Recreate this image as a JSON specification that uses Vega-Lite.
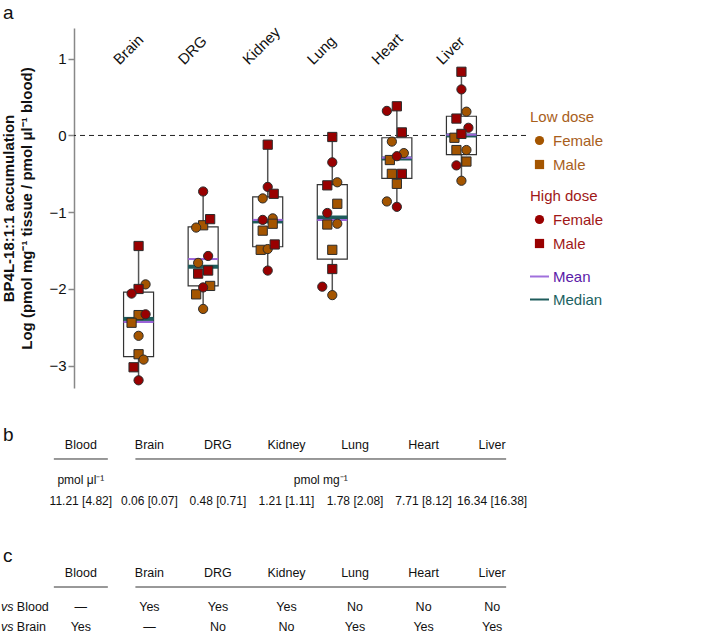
{
  "$schema": "https://vega.github.io/schema/vega-lite/v6.json",
  "padding": {"left": 1, "top": 3, "right": 0, "bottom": 0},
  "config": {
    "font": "Liberation Sans",
    "view": {"stroke": null},
    "axisY": {"grid": false, "domainColor": "#888", "domainWidth": 1.5, "tickColor": "#888", "tickWidth": 1.5, "tickSize": 6, "labelFontSize": 15, "labelColor": "#111", "labelPadding": 2, "titleFontSize": 15, "titleFontWeight": "bold", "titleColor": "#111", "titleLineHeight": 18, "titlePadding": 14}
  },
  "datasets": {
    "points": [
      {"organ": "Brain", "dose": "Low", "sex": "Female", "value": -1.94, "jit": 7},
      {"organ": "Brain", "dose": "Low", "sex": "Male", "value": -2.34, "jit": 0},
      {"organ": "Brain", "dose": "Low", "sex": "Male", "value": -2.44, "jit": -7},
      {"organ": "Brain", "dose": "Low", "sex": "Female", "value": -2.61, "jit": 0},
      {"organ": "Brain", "dose": "Low", "sex": "Male", "value": -2.85, "jit": 0},
      {"organ": "Brain", "dose": "Low", "sex": "Female", "value": -2.92, "jit": 5},
      {"organ": "Brain", "dose": "High", "sex": "Male", "value": -1.44, "jit": 0},
      {"organ": "Brain", "dose": "High", "sex": "Male", "value": -2.0, "jit": 0},
      {"organ": "Brain", "dose": "High", "sex": "Female", "value": -2.06, "jit": -7},
      {"organ": "Brain", "dose": "High", "sex": "Female", "value": -2.33, "jit": 7},
      {"organ": "Brain", "dose": "High", "sex": "Male", "value": -3.02, "jit": -5},
      {"organ": "Brain", "dose": "High", "sex": "Female", "value": -3.19, "jit": 0},
      {"organ": "DRG", "dose": "Low", "sex": "Male", "value": -1.17, "jit": 0},
      {"organ": "DRG", "dose": "Low", "sex": "Female", "value": -1.2, "jit": -7},
      {"organ": "DRG", "dose": "Low", "sex": "Female", "value": -1.66, "jit": -5},
      {"organ": "DRG", "dose": "Low", "sex": "Male", "value": -1.96, "jit": 7},
      {"organ": "DRG", "dose": "Low", "sex": "Male", "value": -2.07, "jit": -7},
      {"organ": "DRG", "dose": "Low", "sex": "Female", "value": -2.26, "jit": 0},
      {"organ": "DRG", "dose": "High", "sex": "Female", "value": -0.73, "jit": 0},
      {"organ": "DRG", "dose": "High", "sex": "Male", "value": -1.09, "jit": 7},
      {"organ": "DRG", "dose": "High", "sex": "Female", "value": -1.57, "jit": 5},
      {"organ": "DRG", "dose": "High", "sex": "Male", "value": -1.76, "jit": 5},
      {"organ": "DRG", "dose": "High", "sex": "Male", "value": -1.8, "jit": -5},
      {"organ": "DRG", "dose": "High", "sex": "Female", "value": -1.98, "jit": 0},
      {"organ": "Kidney", "dose": "Low", "sex": "Female", "value": -0.82, "jit": -5},
      {"organ": "Kidney", "dose": "Low", "sex": "Female", "value": -1.08, "jit": 5},
      {"organ": "Kidney", "dose": "Low", "sex": "Male", "value": -1.15, "jit": 5},
      {"organ": "Kidney", "dose": "Low", "sex": "Male", "value": -1.24, "jit": -5},
      {"organ": "Kidney", "dose": "Low", "sex": "Male", "value": -1.49, "jit": -7},
      {"organ": "Kidney", "dose": "Low", "sex": "Female", "value": -1.48, "jit": 0},
      {"organ": "Kidney", "dose": "High", "sex": "Male", "value": -0.12, "jit": 0},
      {"organ": "Kidney", "dose": "High", "sex": "Female", "value": -0.67, "jit": 0},
      {"organ": "Kidney", "dose": "High", "sex": "Male", "value": -0.76, "jit": 6},
      {"organ": "Kidney", "dose": "High", "sex": "Female", "value": -1.1, "jit": -5},
      {"organ": "Kidney", "dose": "High", "sex": "Male", "value": -1.42, "jit": 7},
      {"organ": "Kidney", "dose": "High", "sex": "Female", "value": -1.76, "jit": 0},
      {"organ": "Lung", "dose": "Low", "sex": "Female", "value": -0.61, "jit": 5},
      {"organ": "Lung", "dose": "Low", "sex": "Male", "value": -0.89, "jit": 5},
      {"organ": "Lung", "dose": "Low", "sex": "Male", "value": -1.16, "jit": -5},
      {"organ": "Lung", "dose": "Low", "sex": "Female", "value": -1.15, "jit": 5},
      {"organ": "Lung", "dose": "Low", "sex": "Male", "value": -1.49, "jit": 0},
      {"organ": "Lung", "dose": "Low", "sex": "Female", "value": -2.08, "jit": 0},
      {"organ": "Lung", "dose": "High", "sex": "Male", "value": -0.02, "jit": 0},
      {"organ": "Lung", "dose": "High", "sex": "Female", "value": -0.35, "jit": 0},
      {"organ": "Lung", "dose": "High", "sex": "Male", "value": -0.65, "jit": -5},
      {"organ": "Lung", "dose": "High", "sex": "Female", "value": -1.01, "jit": -5},
      {"organ": "Lung", "dose": "High", "sex": "Male", "value": -1.74, "jit": 0},
      {"organ": "Lung", "dose": "High", "sex": "Female", "value": -1.97, "jit": -10},
      {"organ": "Heart", "dose": "Low", "sex": "Female", "value": -0.08, "jit": -5},
      {"organ": "Heart", "dose": "Low", "sex": "Female", "value": -0.23, "jit": 7},
      {"organ": "Heart", "dose": "Low", "sex": "Male", "value": -0.32, "jit": -7},
      {"organ": "Heart", "dose": "Low", "sex": "Male", "value": -0.5, "jit": -5},
      {"organ": "Heart", "dose": "Low", "sex": "Male", "value": -0.63, "jit": 0},
      {"organ": "Heart", "dose": "Low", "sex": "Female", "value": -0.86, "jit": -10},
      {"organ": "Heart", "dose": "High", "sex": "Male", "value": 0.38, "jit": 0},
      {"organ": "Heart", "dose": "High", "sex": "Female", "value": 0.32, "jit": -10},
      {"organ": "Heart", "dose": "High", "sex": "Male", "value": 0.04, "jit": 5},
      {"organ": "Heart", "dose": "High", "sex": "Female", "value": -0.27, "jit": 0},
      {"organ": "Heart", "dose": "High", "sex": "Male", "value": -0.5, "jit": 5},
      {"organ": "Heart", "dose": "High", "sex": "Female", "value": -0.93, "jit": 0},
      {"organ": "Liver", "dose": "Low", "sex": "Female", "value": 0.31, "jit": 5},
      {"organ": "Liver", "dose": "Low", "sex": "Male", "value": -0.03, "jit": -7},
      {"organ": "Liver", "dose": "Low", "sex": "Male", "value": -0.19, "jit": -5},
      {"organ": "Liver", "dose": "Low", "sex": "Female", "value": -0.19, "jit": 5},
      {"organ": "Liver", "dose": "Low", "sex": "Male", "value": -0.34, "jit": 5},
      {"organ": "Liver", "dose": "Low", "sex": "Female", "value": -0.59, "jit": 0},
      {"organ": "Liver", "dose": "High", "sex": "Male", "value": 0.83, "jit": 0},
      {"organ": "Liver", "dose": "High", "sex": "Female", "value": 0.6, "jit": 0},
      {"organ": "Liver", "dose": "High", "sex": "Male", "value": 0.22, "jit": -5},
      {"organ": "Liver", "dose": "High", "sex": "Female", "value": 0.1, "jit": 7},
      {"organ": "Liver", "dose": "High", "sex": "Male", "value": 0.02, "jit": 0},
      {"organ": "Liver", "dose": "High", "sex": "Female", "value": -0.39, "jit": -5}
    ],
    "boxes": [
      {"organ": "Brain", "lo": -3.19, "q1": -2.88, "q3": -2.04, "hi": -1.44},
      {"organ": "DRG", "lo": -2.26, "q1": -1.96, "q3": -1.19, "hi": -0.73},
      {"organ": "Kidney", "lo": -1.76, "q1": -1.45, "q3": -0.8, "hi": -0.12},
      {"organ": "Lung", "lo": -2.08, "q1": -1.61, "q3": -0.64, "hi": -0.02},
      {"organ": "Heart", "lo": -0.93, "q1": -0.56, "q3": -0.03, "hi": 0.38},
      {"organ": "Liver", "lo": -0.59, "q1": -0.25, "q3": 0.25, "hi": 0.83}
    ],
    "centers": [
      {"organ": "Brain", "stat": "Median", "value": -2.39},
      {"organ": "DRG", "stat": "Median", "value": -1.71},
      {"organ": "Kidney", "stat": "Median", "value": -1.12},
      {"organ": "Lung", "stat": "Median", "value": -1.07},
      {"organ": "Heart", "stat": "Median", "value": -0.3},
      {"organ": "Liver", "stat": "Median", "value": 0.0},
      {"organ": "Brain", "stat": "Mean", "value": -2.43},
      {"organ": "DRG", "stat": "Mean", "value": -1.61},
      {"organ": "Kidney", "stat": "Mean", "value": -1.1},
      {"organ": "Lung", "stat": "Mean", "value": -1.1},
      {"organ": "Heart", "stat": "Mean", "value": -0.29},
      {"organ": "Liver", "stat": "Mean", "value": 0.01}
    ],
    "tableB": [
      {"kind": "head", "row": "line", "col": "Blood", "label": "Blood"},
      {"kind": "head", "row": "line", "col": "Brain", "label": "Brain"},
      {"kind": "head", "row": "line", "col": "DRG", "label": "DRG"},
      {"kind": "head", "row": "line", "col": "Kidney", "label": "Kidney"},
      {"kind": "head", "row": "line", "col": "Lung", "label": "Lung"},
      {"kind": "head", "row": "line", "col": "Heart", "label": "Heart"},
      {"kind": "head", "row": "line", "col": "Liver", "label": "Liver"},
      {"kind": "unit", "row": "unit", "col": "Blood", "label": "pmol μl⁻¹"},
      {"kind": "unitmid", "row": "unit", "col": "Kidney", "label": "pmol mg⁻¹"},
      {"kind": "val", "row": "val", "col": "Blood", "label": "11.21 [4.82]"},
      {"kind": "val", "row": "val", "col": "Brain", "label": "0.06 [0.07]"},
      {"kind": "val", "row": "val", "col": "DRG", "label": "0.48 [0.71]"},
      {"kind": "val", "row": "val", "col": "Kidney", "label": "1.21 [1.11]"},
      {"kind": "val", "row": "val", "col": "Lung", "label": "1.78 [2.08]"},
      {"kind": "val", "row": "val", "col": "Heart", "label": "7.71 [8.12]"},
      {"kind": "val", "row": "val", "col": "Liver", "label": "16.34 [16.38]"}
    ],
    "tableC": [
      {"kind": "head", "row": "line", "col": "Blood", "label": "Blood"},
      {"kind": "head", "row": "line", "col": "Brain", "label": "Brain"},
      {"kind": "head", "row": "line", "col": "DRG", "label": "DRG"},
      {"kind": "head", "row": "line", "col": "Kidney", "label": "Kidney"},
      {"kind": "head", "row": "line", "col": "Lung", "label": "Lung"},
      {"kind": "head", "row": "line", "col": "Heart", "label": "Heart"},
      {"kind": "head", "row": "line", "col": "Liver", "label": "Liver"},
      {"kind": "rl", "row": "vsBlood", "col": "Blood", "label": "Blood"},
      {"kind": "rl", "row": "vsBrain", "col": "Blood", "label": "Brain"},
      {"kind": "val", "row": "vsBlood", "col": "Blood", "label": "—"},
      {"kind": "val", "row": "vsBlood", "col": "Brain", "label": "Yes"},
      {"kind": "val", "row": "vsBlood", "col": "DRG", "label": "Yes"},
      {"kind": "val", "row": "vsBlood", "col": "Kidney", "label": "Yes"},
      {"kind": "val", "row": "vsBlood", "col": "Lung", "label": "No"},
      {"kind": "val", "row": "vsBlood", "col": "Heart", "label": "No"},
      {"kind": "val", "row": "vsBlood", "col": "Liver", "label": "No"},
      {"kind": "val", "row": "vsBrain", "col": "Blood", "label": "Yes"},
      {"kind": "val", "row": "vsBrain", "col": "Brain", "label": "—"},
      {"kind": "val", "row": "vsBrain", "col": "DRG", "label": "No"},
      {"kind": "val", "row": "vsBrain", "col": "Kidney", "label": "No"},
      {"kind": "val", "row": "vsBrain", "col": "Lung", "label": "Yes"},
      {"kind": "val", "row": "vsBrain", "col": "Heart", "label": "Yes"},
      {"kind": "val", "row": "vsBrain", "col": "Liver", "label": "Yes"}
    ]
  },
  "bounds": "flush",
  "spacing": 64,
  "vconcat": [
    {
      "width": 452,
      "height": 360,
      "title": {"text": "a", "anchor": "start", "frame": "group", "dx": -71, "dy": 23, "offset": 10, "fontSize": 19, "fontWeight": "normal", "baseline": "alphabetic", "color": "#111"},
      "resolve": {"scale": {"shape": "independent"}, "legend": {"shape": "independent"}},
      "layer": [
        {
          "data": {"values": [{"ref": 0}]},
          "mark": {"type": "rule", "strokeDash": [5, 4], "color": "#222", "strokeWidth": 1},
          "encoding": {"y": {"field": "ref", "type": "quantitative", "scale": {"domain": [-3.29, 1.4], "nice": false, "zero": false},
            "axis": {"values": [-3, -2, -1, 0, 1], "title": ["BP4L-18:1:1 accumulation", "Log (pmol mg⁻¹ tissue / pmol μl⁻¹ blood)"]}}}
        },
        {
          "data": {"name": "boxes"},
          "mark": {"type": "rule", "color": "#555", "strokeWidth": 1.5},
          "encoding": {
            "x": {"field": "organ", "type": "nominal", "scale": {"type": "point", "padding": 1, "domain": ["Brain", "DRG", "Kidney", "Lung", "Heart", "Liver"]}, "axis": null},
            "y": {"field": "lo", "type": "quantitative", "scale": {"domain": [-3.29, 1.4], "nice": false, "zero": false},
              "axis": {"values": [-3, -2, -1, 0, 1], "title": ["BP4L-18:1:1 accumulation", "Log (pmol mg⁻¹ tissue / pmol μl⁻¹ blood)"]}},
            "y2": {"field": "hi"}
          }
        },
        {
          "data": {"name": "boxes"},
          "mark": {"type": "bar", "width": 30, "fill": "white", "stroke": "#333", "strokeWidth": 1.2},
          "encoding": {
            "x": {"field": "organ", "type": "nominal", "scale": {"type": "point", "padding": 1, "domain": ["Brain", "DRG", "Kidney", "Lung", "Heart", "Liver"]}, "axis": null},
            "y": {"field": "q1", "type": "quantitative", "scale": {"domain": [-3.29, 1.4], "nice": false, "zero": false},
              "axis": {"values": [-3, -2, -1, 0, 1], "title": ["BP4L-18:1:1 accumulation", "Log (pmol mg⁻¹ tissue / pmol μl⁻¹ blood)"]}},
            "y2": {"field": "q3"}
          }
        },
        {
          "data": {"name": "centers"},
          "transform": [{"filter": "datum.stat === 'Median'"}],
          "mark": {"type": "tick", "size": 30, "thickness": 4, "opacity": 1, "color": "#1f5c5c"},
          "encoding": {
            "x": {"field": "organ", "type": "nominal", "scale": {"type": "point", "padding": 1, "domain": ["Brain", "DRG", "Kidney", "Lung", "Heart", "Liver"]}, "axis": null},
            "y": {"field": "value", "type": "quantitative", "scale": {"domain": [-3.29, 1.4], "nice": false, "zero": false},
              "axis": {"values": [-3, -2, -1, 0, 1], "title": ["BP4L-18:1:1 accumulation", "Log (pmol mg⁻¹ tissue / pmol μl⁻¹ blood)"]}}
          }
        },
        {
          "data": {"name": "centers"},
          "mark": {"type": "tick", "size": 30, "thickness": 2, "opacity": 1},
          "encoding": {
            "x": {"field": "organ", "type": "nominal", "scale": {"type": "point", "padding": 1, "domain": ["Brain", "DRG", "Kidney", "Lung", "Heart", "Liver"]}, "axis": null},
            "y": {"field": "value", "type": "quantitative", "scale": {"domain": [-3.29, 1.4], "nice": false, "zero": false},
              "axis": {"values": [-3, -2, -1, 0, 1], "title": ["BP4L-18:1:1 accumulation", "Log (pmol mg⁻¹ tissue / pmol μl⁻¹ blood)"]}},
            "color": {"field": "stat", "type": "nominal", "scale": {"domain": ["Mean", "Median"], "range": ["#9b63d8", "#1f5c5c"]},
              "legend": {"title": null, "orient": "none", "legendX": 455, "legendY": 238, "symbolType": "stroke", "symbolSize": 361, "symbolStrokeWidth": 2, "labelFontSize": 15, "labelOffset": 3, "rowPadding": 4, "padding": 0,
                "labelColor": {"expr": "datum.value === 'Mean' ? '#5a20a8' : '#1a6262'"},
                "symbolStrokeColor": {"expr": "datum.value === 'Mean' ? '#a070dc' : '#1f5c5c'"},
                "encode": {
                  "labels": {"fill": {"condition": {"test": "datum.value === 'Mean'", "value": "#5a20a8"}, "value": "#1a6262"}},
                  "symbols": {"stroke": {"condition": {"test": "datum.value === 'Mean'", "value": "#a070dc"}, "value": "#1f5c5c"}, "strokeWidth": {"condition": {"test": "datum.value === 'Mean'", "value": 1.5}, "value": 2.5}}
                }}},
            "order": {"field": "stat", "sort": "descending"}
          }
        },
        {
          "data": {"name": "points"},
          "transform": [{"filter": "datum.dose === 'Low'"}],
          "mark": {"type": "point", "filled": true, "fill": "#a45500", "stroke": "#2b2b2b", "strokeWidth": 1, "size": 85, "opacity": 1},
          "encoding": {
            "x": {"field": "organ", "type": "nominal", "scale": {"type": "point", "padding": 1, "domain": ["Brain", "DRG", "Kidney", "Lung", "Heart", "Liver"]}, "axis": null},
            "xOffset": {"field": "jit", "type": "quantitative", "scale": {"domain": [-10, 10], "range": [-10, 10]}},
            "y": {"field": "value", "type": "quantitative", "scale": {"domain": [-3.29, 1.4], "nice": false, "zero": false},
              "axis": {"values": [-3, -2, -1, 0, 1], "title": ["BP4L-18:1:1 accumulation", "Log (pmol mg⁻¹ tissue / pmol μl⁻¹ blood)"]}},
            "shape": {"field": "sex", "type": "nominal", "scale": {"domain": ["Female", "Male"], "range": ["circle", "square"]},
              "legend": {"title": "Low dose", "orient": "none", "legendX": 456, "legendY": 82, "titleColor": "#a8601c", "titleFontSize": 15, "titleFontWeight": "normal", "titlePadding": 8, "labelColor": "#a8601c", "labelFontSize": 15, "symbolFillColor": "#a45500", "symbolStrokeColor": "#2b2b2b", "symbolStrokeWidth": 1, "symbolSize": 85, "symbolOffset": 2, "labelOffset": 6, "rowPadding": 8, "padding": 0}}
          }
        },
        {
          "data": {"name": "points"},
          "transform": [{"filter": "datum.dose === 'High'"}],
          "mark": {"type": "point", "filled": true, "fill": "#990000", "stroke": "#2b2b2b", "strokeWidth": 1, "size": 85, "opacity": 1},
          "encoding": {
            "x": {"field": "organ", "type": "nominal", "scale": {"type": "point", "padding": 1, "domain": ["Brain", "DRG", "Kidney", "Lung", "Heart", "Liver"]}, "axis": null},
            "xOffset": {"field": "jit", "type": "quantitative", "scale": {"domain": [-10, 10], "range": [-10, 10]}},
            "y": {"field": "value", "type": "quantitative", "scale": {"domain": [-3.29, 1.4], "nice": false, "zero": false},
              "axis": {"values": [-3, -2, -1, 0, 1], "title": ["BP4L-18:1:1 accumulation", "Log (pmol mg⁻¹ tissue / pmol μl⁻¹ blood)"]}},
            "shape": {"field": "sex", "type": "nominal", "scale": {"domain": ["Female", "Male"], "range": ["circle", "square"]},
              "legend": {"title": "High dose", "orient": "none", "legendX": 456, "legendY": 161, "titleColor": "#a01818", "titleFontSize": 15, "titleFontWeight": "normal", "titlePadding": 8, "labelColor": "#a01818", "labelFontSize": 15, "symbolFillColor": "#990000", "symbolStrokeColor": "#2b2b2b", "symbolStrokeWidth": 1, "symbolSize": 85, "symbolOffset": 2, "labelOffset": 6, "rowPadding": 8, "padding": 0}}
          }
        },
        {
          "data": {"name": "boxes"},
          "mark": {"type": "text", "angle": -45, "align": "left", "baseline": "alphabetic", "fontSize": 15, "xOffset": -19, "color": "#111"},
          "encoding": {
            "x": {"field": "organ", "type": "nominal", "scale": {"type": "point", "padding": 1, "domain": ["Brain", "DRG", "Kidney", "Lung", "Heart", "Liver"]}, "axis": null},
            "y": {"datum": 0.91, "type": "quantitative", "scale": {"domain": [-3.29, 1.4], "nice": false, "zero": false},
              "axis": {"values": [-3, -2, -1, 0, 1], "title": ["BP4L-18:1:1 accumulation", "Log (pmol mg⁻¹ tissue / pmol μl⁻¹ blood)"]}},
            "text": {"field": "organ"}
          }
        }
      ]
    },
    {
      "width": 425,
      "height": 56,
      "title": {"text": "b", "anchor": "start", "frame": "group", "dx": -71, "dy": 33, "offset": 12, "fontSize": 19, "fontWeight": "normal", "baseline": "alphabetic", "color": "#111"},
      "data": {"name": "tableB"},
      "layer": [
        {
          "data": {"values": [{"from": "Blood", "to": "Blood", "row": "line"}]},
          "mark": {"type": "rule", "xOffset": -27, "x2Offset": 27, "color": "#333", "strokeWidth": 1},
          "encoding": {
            "x": {"field": "from", "type": "nominal", "scale": {"type": "point", "padding": 0.1, "domain": ["Blood", "Brain", "DRG", "Kidney", "Lung", "Heart", "Liver"]}, "axis": null},
            "x2": {"field": "to"},
            "y": {"field": "row", "type": "nominal", "scale": {"type": "point", "padding": 0.3333, "domain": ["line", "unit", "val"]}, "axis": null}
          }
        },
        {
          "data": {"values": [{"from": "Brain", "to": "Liver", "row": "line"}]},
          "mark": {"type": "rule", "xOffset": -14, "x2Offset": 14, "color": "#333", "strokeWidth": 1},
          "encoding": {
            "x": {"field": "from", "type": "nominal", "scale": {"type": "point", "padding": 0.1, "domain": ["Blood", "Brain", "DRG", "Kidney", "Lung", "Heart", "Liver"]}, "axis": null},
            "x2": {"field": "to"},
            "y": {"field": "row", "type": "nominal", "scale": {"type": "point", "padding": 0.3333, "domain": ["line", "unit", "val"]}, "axis": null}
          }
        },
        {
          "transform": [{"filter": "datum.kind === 'head'"}],
          "mark": {"type": "text", "dy": -14, "fontSize": 12.5, "color": "#111"},
          "encoding": {
            "x": {"field": "col", "type": "nominal", "scale": {"type": "point", "padding": 0.1, "domain": ["Blood", "Brain", "DRG", "Kidney", "Lung", "Heart", "Liver"]}, "axis": null},
            "y": {"field": "row", "type": "nominal", "scale": {"type": "point", "padding": 0.3333, "domain": ["line", "unit", "val"]}, "axis": null},
            "text": {"field": "label"}
          }
        },
        {
          "transform": [{"filter": "datum.kind === 'unit' || datum.kind === 'val'"}],
          "mark": {"type": "text", "fontSize": 12, "color": "#111"},
          "encoding": {
            "x": {"field": "col", "type": "nominal", "scale": {"type": "point", "padding": 0.1, "domain": ["Blood", "Brain", "DRG", "Kidney", "Lung", "Heart", "Liver"]}, "axis": null},
            "y": {"field": "row", "type": "nominal", "scale": {"type": "point", "padding": 0.3333, "domain": ["line", "unit", "val"]}, "axis": null},
            "text": {"field": "label"}
          }
        },
        {
          "transform": [{"filter": "datum.kind === 'unitmid'"}],
          "mark": {"type": "text", "dx": 34.25, "fontSize": 12, "color": "#111"},
          "encoding": {
            "x": {"field": "col", "type": "nominal", "scale": {"type": "point", "padding": 0.1, "domain": ["Blood", "Brain", "DRG", "Kidney", "Lung", "Heart", "Liver"]}, "axis": null},
            "y": {"field": "row", "type": "nominal", "scale": {"type": "point", "padding": 0.3333, "domain": ["line", "unit", "val"]}, "axis": null},
            "text": {"field": "label"}
          }
        }
      ]
    },
    {
      "width": 425,
      "height": 70,
      "title": {"text": "c", "anchor": "start", "frame": "group", "dx": -71, "dy": 26, "offset": 12, "fontSize": 19, "fontWeight": "normal", "baseline": "alphabetic", "color": "#111"},
      "data": {"name": "tableC"},
      "layer": [
        {
          "data": {"values": [{"from": "Blood", "to": "Blood", "row": "line"}]},
          "mark": {"type": "rule", "xOffset": -27, "x2Offset": 27, "color": "#333", "strokeWidth": 1},
          "encoding": {
            "x": {"field": "from", "type": "nominal", "scale": {"type": "point", "padding": 0.1, "domain": ["Blood", "Brain", "DRG", "Kidney", "Lung", "Heart", "Liver"]}, "axis": null},
            "x2": {"field": "to"},
            "y": {"field": "row", "type": "nominal", "scale": {"type": "point", "padding": 0.75, "domain": ["line", "vsBlood", "vsBrain"]}, "axis": null}
          }
        },
        {
          "data": {"values": [{"from": "Brain", "to": "Liver", "row": "line"}]},
          "mark": {"type": "rule", "xOffset": -14, "x2Offset": 14, "color": "#333", "strokeWidth": 1},
          "encoding": {
            "x": {"field": "from", "type": "nominal", "scale": {"type": "point", "padding": 0.1, "domain": ["Blood", "Brain", "DRG", "Kidney", "Lung", "Heart", "Liver"]}, "axis": null},
            "x2": {"field": "to"},
            "y": {"field": "row", "type": "nominal", "scale": {"type": "point", "padding": 0.75, "domain": ["line", "vsBlood", "vsBrain"]}, "axis": null}
          }
        },
        {
          "transform": [{"filter": "datum.kind === 'head'"}],
          "mark": {"type": "text", "dy": -14, "fontSize": 12.5, "color": "#111"},
          "encoding": {
            "x": {"field": "col", "type": "nominal", "scale": {"type": "point", "padding": 0.1, "domain": ["Blood", "Brain", "DRG", "Kidney", "Lung", "Heart", "Liver"]}, "axis": null},
            "y": {"field": "row", "type": "nominal", "scale": {"type": "point", "padding": 0.75, "domain": ["line", "vsBlood", "vsBrain"]}, "axis": null},
            "text": {"field": "label"}
          }
        },
        {
          "transform": [{"filter": "datum.kind === 'val'"}],
          "mark": {"type": "text", "fontSize": 12.5, "color": "#111"},
          "encoding": {
            "x": {"field": "col", "type": "nominal", "scale": {"type": "point", "padding": 0.1, "domain": ["Blood", "Brain", "DRG", "Kidney", "Lung", "Heart", "Liver"]}, "axis": null},
            "y": {"field": "row", "type": "nominal", "scale": {"type": "point", "padding": 0.75, "domain": ["line", "vsBlood", "vsBrain"]}, "axis": null},
            "text": {"field": "label"}
          }
        },
        {
          "transform": [{"filter": "datum.kind === 'rl'"}],
          "mark": {"type": "text", "align": "left", "dx": -79.85, "fontSize": 12.5, "fontStyle": "italic", "color": "#111"},
          "encoding": {
            "x": {"field": "col", "type": "nominal", "scale": {"type": "point", "padding": 0.1, "domain": ["Blood", "Brain", "DRG", "Kidney", "Lung", "Heart", "Liver"]}, "axis": null},
            "y": {"field": "row", "type": "nominal", "scale": {"type": "point", "padding": 0.75, "domain": ["line", "vsBlood", "vsBrain"]}, "axis": null},
            "text": {"value": "vs"}
          }
        },
        {
          "transform": [{"filter": "datum.kind === 'rl'"}],
          "mark": {"type": "text", "align": "left", "dx": -64, "fontSize": 12.5, "color": "#111"},
          "encoding": {
            "x": {"field": "col", "type": "nominal", "scale": {"type": "point", "padding": 0.1, "domain": ["Blood", "Brain", "DRG", "Kidney", "Lung", "Heart", "Liver"]}, "axis": null},
            "y": {"field": "row", "type": "nominal", "scale": {"type": "point", "padding": 0.75, "domain": ["line", "vsBlood", "vsBrain"]}, "axis": null},
            "text": {"field": "label"}
          }
        }
      ]
    }
  ]
}
